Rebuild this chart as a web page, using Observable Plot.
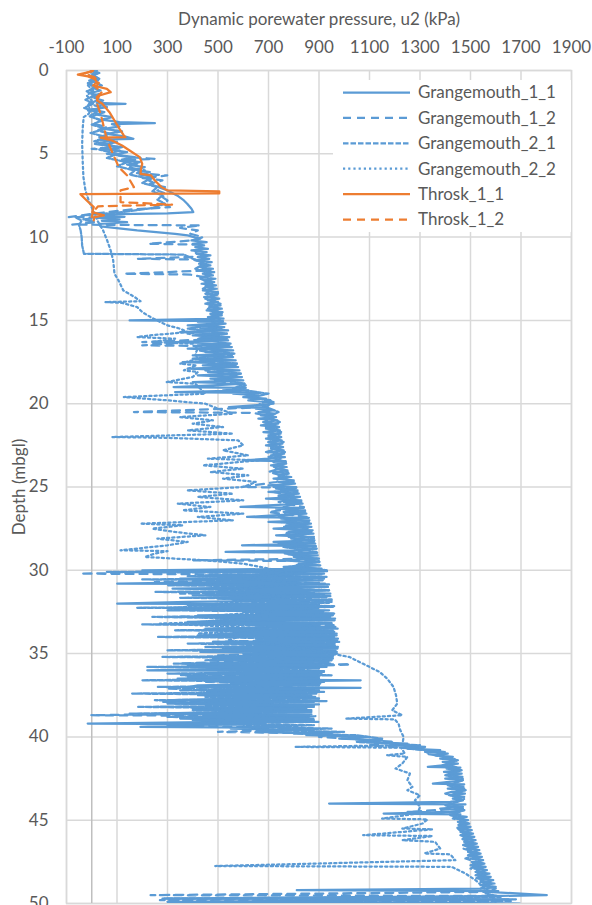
<!DOCTYPE html>
<html>
<head>
<meta charset="utf-8">
<script src="https://cdn.jsdelivr.net/npm/d3@7"></script>
<script src="https://cdn.jsdelivr.net/npm/@observablehq/plot@0.6"></script>
<style>
  body { margin: 0; background: #fff; }
  #chart { position: relative; width: 592px; height: 905px; font-family: Lato, "Open Sans", sans-serif; }
  #legend { position: absolute; left: 333px; top: 80px; }
</style>
</head>
<body>
<div id="chart"></div>
<script>
// Axis ticks
const xTicks = [-100, 100, 300, 500, 700, 900, 1100, 1300, 1500, 1700, 1900];
const yTicks = [0, 5, 10, 15, 20, 25, 30, 35, 40, 45, 50];

const seriesNames = ["Grangemouth_1_1", "Grangemouth_1_2", "Grangemouth_2_1", "Grangemouth_2_2", "Throsk_1_1", "Throsk_1_2"];

// Each profile: [depth (m), u2 (kPa)]
const grangemouth11 = [
  [0,5],[0.15,30],[0.3,0],[0.45,25],[0.6,-10],[0.75,20],[0.9,40],[1.05,5],[1.2,35],[1.35,-5],[1.5,30],[1.65,10],[1.8,45],[1.95,20],[2.0,134],[2.05,30],
  [2.2,60],[2.35,0],[2.5,50],[2.65,20],[2.8,80],[2.95,40],[3.1,110],[3.16,250],[3.22,80],[3.35,110],[3.5,50],[3.65,120],[3.8,60],[3.95,130],[4.1,165],[4.15,30],
  [4.3,100],[4.45,40],[4.6,120],[4.75,70],[4.9,140],[5.05,90],[5.2,170],[5.35,120],[5.5,190],[5.65,140],[5.8,210],[5.95,170],[6.1,230],[6.25,190],[6.4,250],
  [6.55,220],[6.7,240],[6.85,235],[7.0,265],[7.2,300],[7.5,338],[7.8,365],[8.0,378],[8.3,395],[8.5,402],[8.58,300],[8.62,101],[8.7,40],[8.78,130],[8.86,35],
  [8.94,110],[9.02,40],[9.1,140],[9.2,30],[9.35,35],[9.6,180],[9.8,330],[9.9,380],[10.0,405],[10.1,430],[10.2,395],[10.3,455],[10.4,400],[10.5,445],
  [10.6,410],[10.7,460],[10.8,395],[10.9,455],[11.0,415],[11.1,470],[11.2,420],[11.3,465],[11.4,410],[11.5,475],[11.6,425],[11.7,470],[11.8,430],[11.9,480],
  [12.0,420],[12.1,485],[12.2,440],[12.3,480],[12.4,430],[12.5,490],[12.6,445],[12.7,485],[12.8,435],[12.9,492],[13.0,450],[13.1,495],[13.2,440],[13.3,500],
  [13.4,455],[13.5,495],[13.6,445],[13.7,505],[13.8,460],[13.9,500],[14.0,450],[14.1,510],[14.2,465],[14.3,515],[14.4,455],[14.5,518],[14.6,470],[14.7,515],
  [14.8,460],[14.9,522],[15.0,150],[15.05,520],[15.1,420],[15.2,530],[15.3,380],[15.4,525],[15.5,430],[15.6,540],[15.7,350],[15.8,535],[15.9,400],[16.0,545],
  [16.1,440],[16.2,540],[16.3,330],[16.4,550],[16.5,420],[16.6,555],[16.7,380],[16.8,560],[16.9,450],[17.0,565],[17.1,400],[17.2,560],[17.3,430],[17.4,570],
  [17.5,360],[17.6,575],[17.7,440],[17.8,580],[17.9,380],[18.0,585],[18.1,460],[18.2,590],[18.3,420],[18.4,595],[18.5,470],[18.6,600],[18.7,400],[18.8,605],
  [18.9,480],[19.0,324],[19.05,610],[19.1,520],[19.2,620],[19.3,330],[19.35,668],[19.4,560],[19.5,660],[19.6,600],[19.7,690],[19.8,620],[19.9,700],[20.0,720],
  [20.1,640],[20.2,543],[20.25,700],[20.3,650],[20.4,720],[20.5,660],[20.6,725],[20.7,670],[20.8,730],[20.9,660],[21.0,735],[21.1,680],[21.2,738],[21.3,670],
  [21.4,742],[21.5,690],[21.6,745],[21.7,680],[21.8,748],[21.9,700],[22.0,750],[22.1,690],[22.2,752],[22.3,700],[22.4,755],[22.5,690],[22.6,758],[22.7,710],
  [22.8,760],[22.9,700],[23.0,762],[23.1,710],[23.2,765],[23.3,700],[23.4,600],[23.45,768],[23.5,720],[23.6,770],[23.7,710],[23.8,772],[23.9,730],[24.0,775],
  [24.1,720],[24.2,780],[24.3,740],[24.4,790],[24.5,720],[24.6,800],[24.7,740],[24.8,805],[24.9,700],[25.0,810],[25.1,730],[25.2,815],[25.3,700],[25.4,820],
  [25.5,740],[25.6,825],[25.7,690],[25.8,830],[25.9,760],[26.0,835],[26.1,700],[26.2,589],[26.25,840],[26.3,730],[26.4,845],[26.5,760],[26.6,850],[26.7,720],
  [26.8,615],[26.85,860],[26.9,750],[27.0,862],[27.1,700],[27.2,868],[27.3,770],[27.4,870],[27.5,720],[27.6,875],[27.7,780],[27.8,878],[27.9,730],[28.0,880],
  [28.1,790],[28.2,882],[28.3,720],[28.4,885],[28.5,595],[28.55,888],[28.6,760],[28.7,890],[28.8,800],[28.9,530],[28.95,893],[29.0,770],[29.1,895],[29.2,810],
  [29.3,900],[29.4,740],[29.5,902],[29.6,820],[29.7,905],[29.8,760],[29.9,910],[30.0,200],[30.05,932],[30.1,600],[30.2,920],[30.3,450],[30.4,930],[30.5,350],
  [30.6,915],[30.7,550],[30.8,101],[30.85,940],[30.9,480],[31.0,935],[31.1,320],[31.2,925],[31.3,600],[31.4,945],[31.5,400],[31.6,930],[31.7,520],[31.8,950],
  [31.9,380],[32.0,101],[32.05,900],[32.1,460],[32.2,955],[32.3,350],[32.4,940],[32.5,600],[32.6,960],[32.7,420],[32.8,945],[32.9,520],[33.0,962],[33.1,380],
  [33.2,950],[33.3,620],[33.4,965],[33.5,450],[33.6,955],[33.7,560],[33.8,970],[33.9,420],[34.0,960],[34.1,650],[34.2,972],[34.3,480],[34.4,962],[34.5,700],
  [34.6,975],[34.7,520],[34.8,965],[34.9,430],[35.0,972],[35.1,600],[35.2,955],[35.3,480],[35.4,950],[35.5,650],[35.6,945],[35.7,380],[35.8,930],[35.9,560],
  [36.0,220],[36.05,920],[36.1,450],[36.2,910],[36.3,600],[36.4,900],[36.5,340],[36.6,1065],[36.7,520],[36.8,905],[36.9,420],[37.0,390],[37.05,1065],[37.1,580],
  [37.2,900],[37.3,460],[37.4,890],[37.5,420],[37.6,885],[37.7,560],[37.8,320],[37.85,930],[37.9,480],[38.0,330],[38.05,900],[38.1,520],[38.2,880],[38.3,400],
  [38.4,870],[38.5,560],[38.6,250],[38.65,870],[38.7,450],[38.8,860],[38.9,350],[39.0,880],[39.1,520],[39.2,-16],[39.25,660],[39.3,400],[39.4,193],[39.45,700],
  [39.5,550],[39.6,800],[39.7,650],[39.8,900],[39.9,850],[40.0,1090],[40.1,980],[40.2,1150],[40.3,1080],[40.4,1250],[40.5,1180],[40.6,1320],[40.7,1250],
  [40.8,1380],[40.9,1320],[41.0,1410],[41.1,1360],[41.2,1430],[41.3,1380],[41.4,1445],[41.5,1390],[41.6,1450],[41.7,1400],[41.8,1331],[41.85,1460],[41.9,1405],
  [42.0,1462],[42.1,1395],[42.2,1465],[42.3,1410],[42.4,1468],[42.5,1400],[42.6,1470],[42.7,1415],[42.8,1351],[42.85,1475],[42.9,1420],[43.0,1472],[43.1,1410],
  [43.2,1480],[43.3,1425],[43.4,1478],[43.5,1415],[43.6,1475],[43.7,1430],[43.8,1470],[43.9,1420],[44.0,940],[44.05,1480],[44.1,1400],[44.2,1470],[44.3,1380],
  [44.4,1475],[44.5,1420],[44.6,1156],[44.65,1460],[44.7,1430],[44.8,1485],[44.9,1440],[45.0,1490],[45.1,1450],[45.2,1495],[45.3,1455],[45.4,1500],[45.5,1450],
  [45.6,1505],[45.7,1460],[45.8,1510],[45.9,1465],[46.0,1515],[46.1,1470],[46.2,1520],[46.3,1475],[46.4,1525],[46.5,1480],[46.6,1530],[46.7,1485],[46.8,1535],
  [46.9,1490],[47.0,1540],[47.1,1495],[47.2,1545],[47.3,1500],[47.4,1550],[47.5,1505],[47.6,1555],[47.7,1510],[47.8,1560],[47.9,1515],[48.0,1565],[48.1,1520],
  [48.2,1575],[48.3,1525],[48.4,1580],[48.5,1530],[48.6,1590],[48.7,1540],[48.8,1595],[48.9,1550],[49.0,1600],[49.1,1560],[49.2,812],[49.25,1610],[49.3,1570],
  [49.5,1802],[49.55,1590],[49.7,290],[49.75,1650],[49.9,300],[50.0,1695]
];

const grangemouth12 = [
  [0,0],[0.2,20],[0.4,-5],[0.6,25],[0.8,-15],[1.0,15],[1.2,-5],[1.4,30],[1.6,0],[1.8,20],[2.0,-10],[2.2,35],[2.4,-15],[2.6,25],[2.8,0],[3.0,40],[3.2,10],
  [3.4,60],[3.6,20],[3.8,75],[4.0,30],[4.2,85],[4.4,10],[4.6,95],[4.7,0],[4.8,110],[5.0,60],[5.2,150],[5.3,250],[5.4,120],[5.6,180],[5.8,140],[6.0,210],
  [6.15,170],[6.3,299],[6.45,200],[6.6,280],[6.8,230],[7.0,290],[7.2,260],[7.4,295],[7.6,280],[7.8,300],[8.0,290],[8.2,310],[8.35,150],[8.5,60],[8.65,-20],
  [8.8,-91],[8.82,50],[8.95,-40],[9.1,20],[9.25,-77],[9.3,430],[9.45,350],[9.6,420],[9.8,390],[10.0,440],[10.2,400],[10.4,225],[10.45,420],[10.7,445],
  [10.9,400],[11.15,460],[11.3,180],[11.35,410],[11.6,455],[11.8,420],[12.0,470],[12.2,127],[12.25,390],[12.5,475],[12.8,440],[13.1,485],[13.4,450],[13.7,495],
  [14.0,455],[14.3,505],[14.6,465],[14.9,515],[15.2,470],[15.5,525],[15.8,380],[16.1,535],[16.3,200],[16.35,340],[16.5,200],[16.55,545],[16.8,420],[17.1,555],
  [17.4,430],[17.7,570],[18.0,450],[18.3,585],[18.6,480],[18.9,610],[19.2,560],[19.4,650],[19.6,600],[19.8,720],[20.0,660],[20.2,700],[20.5,167],[20.55,641],
  [20.8,725],[21.1,680],[21.4,740],[21.7,700],[22.0,750],[22.3,700],[22.6,755],[22.9,690],[23.2,760],[23.5,720],[23.8,765],[24.1,700],[24.4,780],[24.7,730],
  [25.0,595],[25.05,810],[25.3,720],[25.6,820],[25.9,740],[26.2,840],[26.5,700],[26.8,855],[27.1,750],[27.4,870],[27.8,760],[27.85,810],[28.1,880],[28.4,740],
  [28.7,890],[29.0,760],[29.3,895],[29.4,402],[29.45,900],[29.7,800],[30.0,930],[30.2,-45],[30.25,589],[30.5,920],[30.7,250],[30.75,900],[31.0,600],[31.2,940],
  [31.4,350],[31.45,920],[31.7,500],[31.9,950],[32.1,380],[32.2,930],[32.4,550],[32.6,960],[32.8,300],[32.9,940],[33.1,520],[33.3,970],[33.5,480],[33.7,960],
  [33.9,600],[34.1,975],[34.3,480],[34.5,960],[34.7,620],[34.9,980],[35.1,500],[35.3,960],[35.6,325],[35.65,1025],[35.9,550],[36.1,900],[36.3,350],[36.4,880],
  [36.7,450],[36.9,900],[37.1,300],[37.3,880],[37.5,500],[37.7,900],[37.9,280],[38.1,880],[38.3,400],[38.5,860],[38.7,-3],[38.75,886],[38.9,450],[39.1,850],
  [39.3,300],[39.5,880],[39.7,500],[39.8,950],[40.0,900],[40.3,1200],[40.5,1100],[40.8,1350],[41.0,1320],[41.3,1440],[41.6,1400],[41.9,1460],[42.2,1410],
  [42.5,1470],[42.8,1420],[43.1,1475],[43.4,1400],[43.7,1480],[44.0,1420],[44.3,1470],[44.5,1250],[44.55,1460],[44.9,1430],[45.2,1495],[45.5,1440],[45.8,1505],
  [46.1,1460],[46.4,1520],[46.7,1470],[47.0,1535],[47.3,1480],[47.6,1550],[47.9,1500],[48.2,1565],[48.5,1520],[48.8,1580],[49.1,1540],[49.3,1600],[49.5,233],
  [49.55,1610],[49.8,270],[49.85,1660],[50.0,300]
];

const grangemouth21 = [
  [0,20],[0.25,0],[0.5,30],[0.75,-15],[1.0,15],[1.25,-20],[1.5,10],[1.75,-25],[2.0,5],[2.25,-30],[2.5,20],[2.75,-10],[3.0,40],[3.25,0],[3.5,55],[3.75,-5],
  [4.0,60],[4.25,10],[4.5,80],[4.75,30],[5.0,100],[5.25,60],[5.5,140],[5.75,100],[6.0,170],[6.25,150],[6.5,230],[6.75,200],[7.0,260],[7.25,240],[7.5,280],
  [7.75,260],[8.0,290],[8.25,240],[8.5,120],[8.7,-30],[8.85,-60],[9.0,-40],[9.3,-50],[9.6,-44],[10.0,-40],[10.5,-38],[11.0,-31],[11.05,365],[11.3,400],
  [11.6,450],[11.9,410],[12.2,470],[12.5,430],[12.8,480],[13.1,440],[13.4,500],[13.7,450],[14.0,510],[14.3,460],[14.6,515],[14.9,470],[15.2,525],[15.5,380],
  [15.8,535],[16.1,420],[16.4,545],[16.7,450],[17.0,560],[17.3,400],[17.6,575],[17.9,470],[18.2,590],[18.5,500],[18.8,605],[19.1,560],[19.4,700],[19.6,640],
  [19.9,720],[20.2,690],[20.5,740],[20.8,700],[21.1,745],[21.4,690],[21.7,750],[22.0,700],[22.3,760],[22.6,710],[22.9,765],[23.2,700],[23.5,770],[23.8,720],
  [24.1,780],[24.4,740],[24.7,800],[25.0,720],[25.3,815],[25.6,740],[25.9,830],[26.2,760],[26.5,845],[26.8,740],[27.1,860],[27.4,760],[27.7,870],[28.0,780],
  [28.3,880],[28.6,760],[28.9,890],[29.2,800],[29.5,900],[29.8,780],[30.0,930],[30.1,60],[30.15,700],[30.25,910],[30.35,380],[30.45,900],[30.55,200],[30.6,850],
  [30.7,520],[30.8,925],[30.9,300],[31.0,935],[31.1,620],[31.2,940],[31.3,250],[31.35,880],[31.45,480],[31.55,945],[31.65,350],[31.75,950],[31.85,560],
  [31.95,940],[32.05,400],[32.15,960],[32.25,180],[32.3,900],[32.4,300],[32.5,920],[32.6,650],[32.7,955],[32.8,240],[32.9,965],[33.0,500],[33.1,420],
  [33.15,950],[33.25,200],[33.3,870],[33.4,700],[33.5,975],[33.6,330],[33.7,960],[33.8,500],[33.9,970],[34.0,260],[34.1,960],[34.2,650],[34.3,980],[34.4,380],
  [34.5,965],[34.6,450],[34.7,975],[34.8,300],[34.9,970],[35.0,600],[35.1,960],[35.2,280],[35.3,955],[35.4,450],[35.5,940],[35.6,350],[35.7,930],[35.8,220],
  [35.9,900],[36.0,500],[36.1,920],[36.2,300],[36.3,950],[36.4,380],[36.5,900],[36.6,200],[36.7,920],[36.8,550],[36.9,900],[37.0,260],[37.1,880],[37.2,350],
  [37.3,920],[37.4,160],[37.5,870],[37.6,450],[37.7,900],[37.8,250],[37.9,880],[38.0,300],[38.1,860],[38.2,180],[38.3,850],[38.4,400],[38.5,870],[38.6,150],
  [38.7,860],[38.8,300],[38.9,880],[39.0,400],[39.1,900],[39.2,250],[39.3,880],[39.4,600],[39.5,950],[39.6,700],[39.7,1000],[39.8,800],[39.9,1050],
  [40.1,1150],[40.3,1050],[40.5,1300],[40.7,1250],[40.9,1400],[41.1,1360],[41.4,1450],[41.7,1390],[42.0,1465],[42.3,1400],[42.6,1470],[42.9,1410],[43.2,1480],
  [43.5,1420],[43.8,1470],[44.1,1400],[44.4,1475],[44.7,1420],[45.0,1480],[45.3,1450],[45.6,1500],[45.9,1460],[46.2,1515],[46.5,1470],[46.8,1530],[47.1,1490],
  [47.4,1545],[47.7,1500],[48.0,1560],[48.3,1520],[48.6,1585],[48.9,1540],[49.1,1600],[49.4,1560],[49.6,1620],[49.7,280],[49.75,1680],[49.95,300],[50.0,1600]
];

const grangemouth22 = [
  [0,0],[0.3,-10],[0.6,10],[0.9,-15],[1.2,5],[1.5,-20],[1.8,0],[2.1,-15],[2.4,-5],[2.6,-12],[2.8,-32],[3.5,-36],[4.4,-38],[5.4,-36],[6.4,-33],[7.2,-25],
  [7.8,-12],[8.4,5],[9.0,22],[9.6,45],[10.2,61],[10.8,75],[11.4,85],[12.2,90],[12.6,106],[13.2,125],[13.6,170],[13.85,193],[13.9,54],[13.95,120],[14.2,180],
  [14.5,200],[14.8,233],[15.1,272],[15.3,300],[15.5,350],[15.7,380],[15.9,230],[16.0,180],[16.1,330],[16.3,240],[16.4,400],[16.7,420],[17.0,410],[17.3,420],
  [17.6,350],[17.7,415],[18.0,365],[18.1,420],[18.4,400],[18.7,297],[18.8,410],[19.1,430],[19.4,450],[19.6,127],[19.7,210],[19.8,300],[20.0,450],[20.3,500],
  [20.6,560],[20.8,350],[21.0,480],[21.2,400],[21.4,520],[21.6,380],[21.8,560],[22.0,81],[22.05,300],[22.2,580],[22.5,600],[22.8,520],[23.1,620],[23.3,460],
  [23.4,660],[23.7,440],[23.9,600],[24.1,470],[24.3,620],[24.5,520],[24.7,650],[25.0,600],[25.2,378],[25.4,560],[25.6,420],[25.8,600],[26.0,340],[26.2,470],
  [26.4,360],[26.6,600],[26.8,420],[27.0,560],[27.2,193],[27.3,360],[27.5,240],[27.7,330],[27.9,450],[28.1,260],[28.3,380],[28.5,300],[28.8,114],[28.85,300],
  [29.0,250],[29.2,210],[29.4,450],[29.6,600],[29.9,700],[30.2,800],[30.5,600],[30.8,850],[31.2,500],[31.6,800],[32.0,500],[32.3,300],[32.5,700],[32.8,400],
  [33.0,650],[33.2,270],[33.3,430],[33.5,700],[33.8,420],[33.9,600],[34.2,540],[34.3,600],[34.6,800],[35.0,950],[35.2,1020],[35.5,1060],[35.8,1100],
  [36.1,1140],[36.5,1170],[37.0,1195],[37.5,1205],[38.0,1210],[38.4,1190],[38.7,1230],[38.9,1008],[38.95,1200],[39.2,1215],[39.6,1222],[40.0,1235],[40.5,1230],
  [40.6,805],[40.65,1225],[41.0,1240],[41.1,1170],[41.2,1250],[41.6,1230],[41.9,1203],[42.2,1260],[42.6,1250],[43.0,1270],[43.2,1250],[43.5,1300],[43.8,1280],
  [44.2,1300],[44.6,1290],[44.9,1150],[44.95,1330],[45.2,1310],[45.5,1230],[45.55,1350],[45.9,1075],[45.95,1350],[46.2,1230],[46.3,1360],[46.7,1380],
  [47.0,1317],[47.05,1420],[47.4,1440],[47.75,489],[47.8,1425],[48.2,1480],[48.6,1520],[49.0,1550],[49.4,1570],[49.7,1590],[50.0,1600]
];

const throsk11 = [
  [0,0],[0.05,2],[0.25,-55],[0.35,-15],[0.5,10],[0.7,21],[0.9,5],[1.1,60],[1.3,75],[1.5,30],[1.8,21],[2.0,42],[2.5,70],[3.0,90],[3.5,110],[3.9,127],
  [4.0,133],[4.03,36],[4.2,80],[4.5,120],[4.8,150],[5.2,190],[5.6,200],[5.9,195],[6.2,193],[6.3,235],[6.6,250],[7.0,276],[7.2,300],[7.25,505],[7.38,505],
  [7.42,-45],[7.8,-20],[8.2,8],[8.5,2],[8.7,48],[8.8,10],[9.0,8]
];

const throsk12 = [
  [0,5],[0.2,-30],[0.4,10],[0.7,30],[1.0,15],[1.3,40],[1.6,20],[2.0,21],[2.6,35],[3.4,48],[4.2,61],[4.9,81],[5.8,107],[6.3,140],[7.0,167],[7.2,114],
  [7.9,114],[8.05,318],[8.15,25],[8.5,5],[8.8,0]
];

const profiles = [grangemouth11, grangemouth12, grangemouth21, grangemouth22, throsk11, throsk12];

// Line styling per series
const BLUE = "#5b9bd5", ORANGE = "#ed7d31";
const styles = [
  {stroke: BLUE, dash: null},
  {stroke: BLUE, dash: "8,6"},
  {stroke: BLUE, dash: "5.5,2"},
  {stroke: BLUE, dash: "2.2,3"},
  {stroke: ORANGE, dash: null},
  {stroke: ORANGE, dash: "8,6"}
];
const TEXT = "#595959";
const GRID = "#d9d9d9";
const FONT = "Lato, 'Open Sans', sans-serif";

const lineMarks = profiles.map((p, i) => Plot.line(p, {
  x: d => d[1],
  y: d => d[0],
  stroke: styles[i].stroke,
  strokeWidth: 2.25,
  strokeDasharray: styles[i].dash || undefined,
  strokeLinejoin: "round",
  clip: true
}));

const chart = Plot.plot({
  width: 592,
  height: 905,
  marginTop: 70,
  marginLeft: 66,
  marginRight: 21,
  marginBottom: 2,
  style: {fontFamily: FONT, fontSize: "17px", color: TEXT, background: "#fff"},
  x: {domain: [-100, 1900]},
  y: {domain: [0, 50], reverse: true},
  marks: [
    Plot.gridX(xTicks, {stroke: GRID, strokeOpacity: 1, strokeWidth: 1.5}),
    Plot.gridY(yTicks, {stroke: GRID, strokeOpacity: 1, strokeWidth: 1.5}),
    Plot.frame({stroke: GRID, strokeWidth: 1.5}),
    Plot.ruleX([0], {stroke: "#bfbfbf", strokeWidth: 1.5}),
    ...lineMarks,
    Plot.axisX({
      anchor: "top", ticks: xTicks, tickFormat: d => String(d), tickSize: 0, tickPadding: 18,
      label: "Dynamic porewater pressure, u2 (kPa)", labelAnchor: "center", labelOffset: 58, labelArrow: "none",
      fontSize: 17, fill: TEXT
    }),
    Plot.axisY({
      anchor: "left", ticks: yTicks, tickFormat: d => String(d), tickSize: 0, tickPadding: 18,
      label: "Depth (mbgl)", labelAnchor: "center", labelOffset: 54, labelArrow: "none",
      fontSize: 17, fill: TEXT
    })
  ]
});

const container = document.getElementById("chart");
container.appendChild(chart);

// Legend box inside the plot area
const legend = d3.create("svg")
  .attr("id", "legend")
  .attr("width", 238)
  .attr("height", 152);
legend.append("rect").attr("width", 238).attr("height", 152).attr("fill", "#fff");
seriesNames.forEach((name, i) => {
  const y = 12.5 + i * 25.4;
  legend.append("line")
    .attr("x1", 10).attr("x2", 77).attr("y1", y).attr("y2", y)
    .attr("stroke", styles[i].stroke).attr("stroke-width", 2.25)
    .attr("stroke-dasharray", styles[i].dash);
  legend.append("text")
    .attr("x", 85).attr("y", y).attr("dy", "0.35em")
    .attr("fill", TEXT).attr("font-family", FONT).attr("font-size", 17)
    .text(name);
});
container.appendChild(legend.node());
</script>
</body>
</html>
